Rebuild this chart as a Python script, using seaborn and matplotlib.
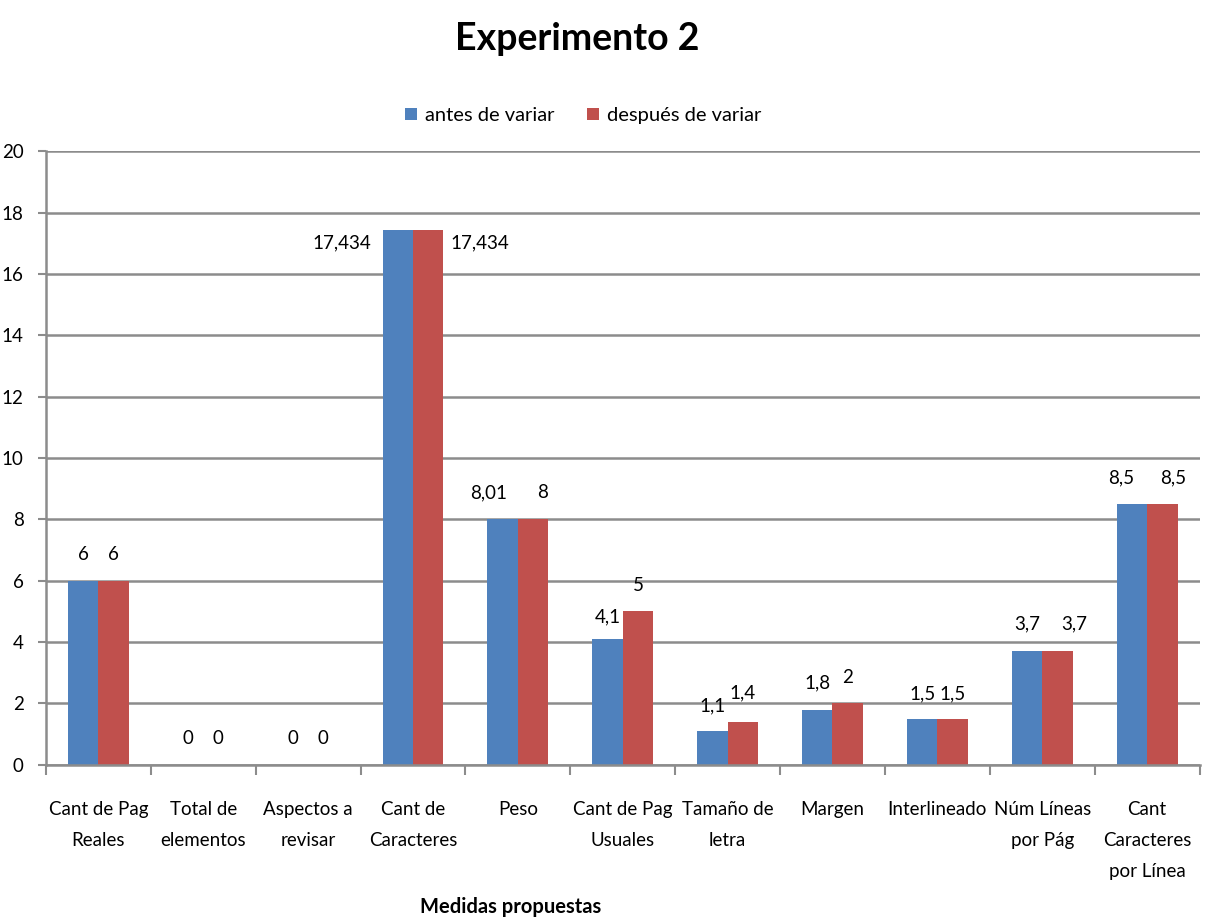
import matplotlib.pyplot as plt
import numpy as np
import pandas as pd
import seaborn as sns
from matplotlib.ticker import FixedLocator

# Data
categories = [
    "Cant de Pag\nReales",
    "Total de\nelementos",
    "Aspectos a\nrevisar",
    "Cant de\nCaracteres",
    "Peso",
    "Cant de Pag\nUsuales",
    "Tamaño de\nletra",
    "Margen",
    "Interlineado",
    "Núm Líneas\npor Pág",
    "Cant\nCaracteres\npor Línea",
]
antes = [6, 0, 0, 17.434, 8.01, 4.1, 1.1, 1.8, 1.5, 3.7, 8.5]
despues = [6, 0, 0, 17.434, 8, 5, 1.4, 2, 1.5, 3.7, 8.5]
series_names = ["antes de variar", "después de variar"]
yticks = [0, 2, 4, 6, 8, 10, 12, 14, 16, 18, 20]

# label nudges (points) to mimic Excel's label placement
label_dx = {
    0: [0, 0, 0, -40, -10, 0, 0, 0, 0, 0, -8],
    1: [0, 0, 0, 37, 7, 0, 0, 0, 0, 12, 8],
}
label_dy = {
    0: [19, 19, 19, -9, 19, 16, 18, 19, 18, 20, 19],
    1: [19, 19, 19, -9, 19, 19, 21, 19, 18, 20, 19],
}

BLUE = "#4F81BD"
RED = "#C0504D"
GRID = "#8C8C8C"
FONT = ["Lato", "DejaVu Sans"]
FS = 13.5

df = pd.DataFrame(
    {
        "categoria": categories * 2,
        "valor": antes + despues,
        "serie": [series_names[0]] * len(categories) + [series_names[1]] * len(categories),
    }
)

sns.set_theme(style="white")
plt.rcParams["font.family"] = FONT
plt.rcParams["text.color"] = "black"
plt.rcParams["xtick.color"] = "black"
plt.rcParams["ytick.color"] = "black"
plt.rcParams["axes.labelcolor"] = "black"

fig = plt.figure(figsize=(12.08, 9.17), dpi=100)
ax = fig.add_axes([0.038, 0.166, 0.955, 0.669])

sns.barplot(
    data=df,
    x="categoria",
    y="valor",
    hue="serie",
    palette=[BLUE, RED],
    width=0.58,
    saturation=1,
    linewidth=0,
    ax=ax,
    legend=True,
)

ax.set_ylim(0, 20)
ax.set_xlim(-0.5, len(categories) - 0.5)
ax.set_yticks(yticks)
ax.yaxis.grid(True, color=GRID, linewidth=1.8)
ax.set_axisbelow(True)

for side in ["top", "right"]:
    ax.spines[side].set_visible(False)
for side in ["left", "bottom"]:
    ax.spines[side].set_color(GRID)
    ax.spines[side].set_linewidth(1.8)

ax.tick_params(axis="y", which="major", length=6, width=1.5, color=GRID,
               labelsize=FS, pad=10, left=True, labelcolor="black")
ax.tick_params(axis="x", which="major", length=0, labelsize=FS, pad=26,
               labelcolor="black")
ax.xaxis.set_minor_locator(FixedLocator(np.arange(-0.5, len(categories), 1.0)))
ax.tick_params(axis="x", which="minor", length=7, width=1.5, color=GRID, bottom=True)
for lab in ax.get_xticklabels():
    lab.set_linespacing(2.0)

ax.set_xlabel("Medidas propuestas", fontsize=14.5, fontweight="bold", color="black")
ax.xaxis.set_label_coords(0.403, -0.215)
ax.set_ylabel("")

# data labels
for i, container in enumerate(ax.containers):
    for j, bar in enumerate(container):
        v = bar.get_height()
        txt = f"{v:g}".replace(".", ",")
        ax.annotate(
            txt,
            (bar.get_x() + bar.get_width() / 2, v),
            xytext=(label_dx[i][j], label_dy[i][j]),
            textcoords="offset points",
            ha="center",
            va="center",
            fontsize=FS,
            color="black",
        )

leg = ax.legend(
    loc="center",
    bbox_to_anchor=(0.483, 0.874),
    bbox_transform=fig.transFigure,
    ncol=2,
    frameon=False,
    fontsize=14.5,
    handlelength=0.6,
    handleheight=0.6,
    handletextpad=0.4,
    columnspacing=1.6,
)
for t in leg.get_texts():
    t.set_color("black")

fig.text(0.478, 0.957, "Experimento 2", ha="center", va="center",
         fontsize=27, fontweight="bold", color="black")

fig.savefig("out.png", dpi=100, facecolor="white")
